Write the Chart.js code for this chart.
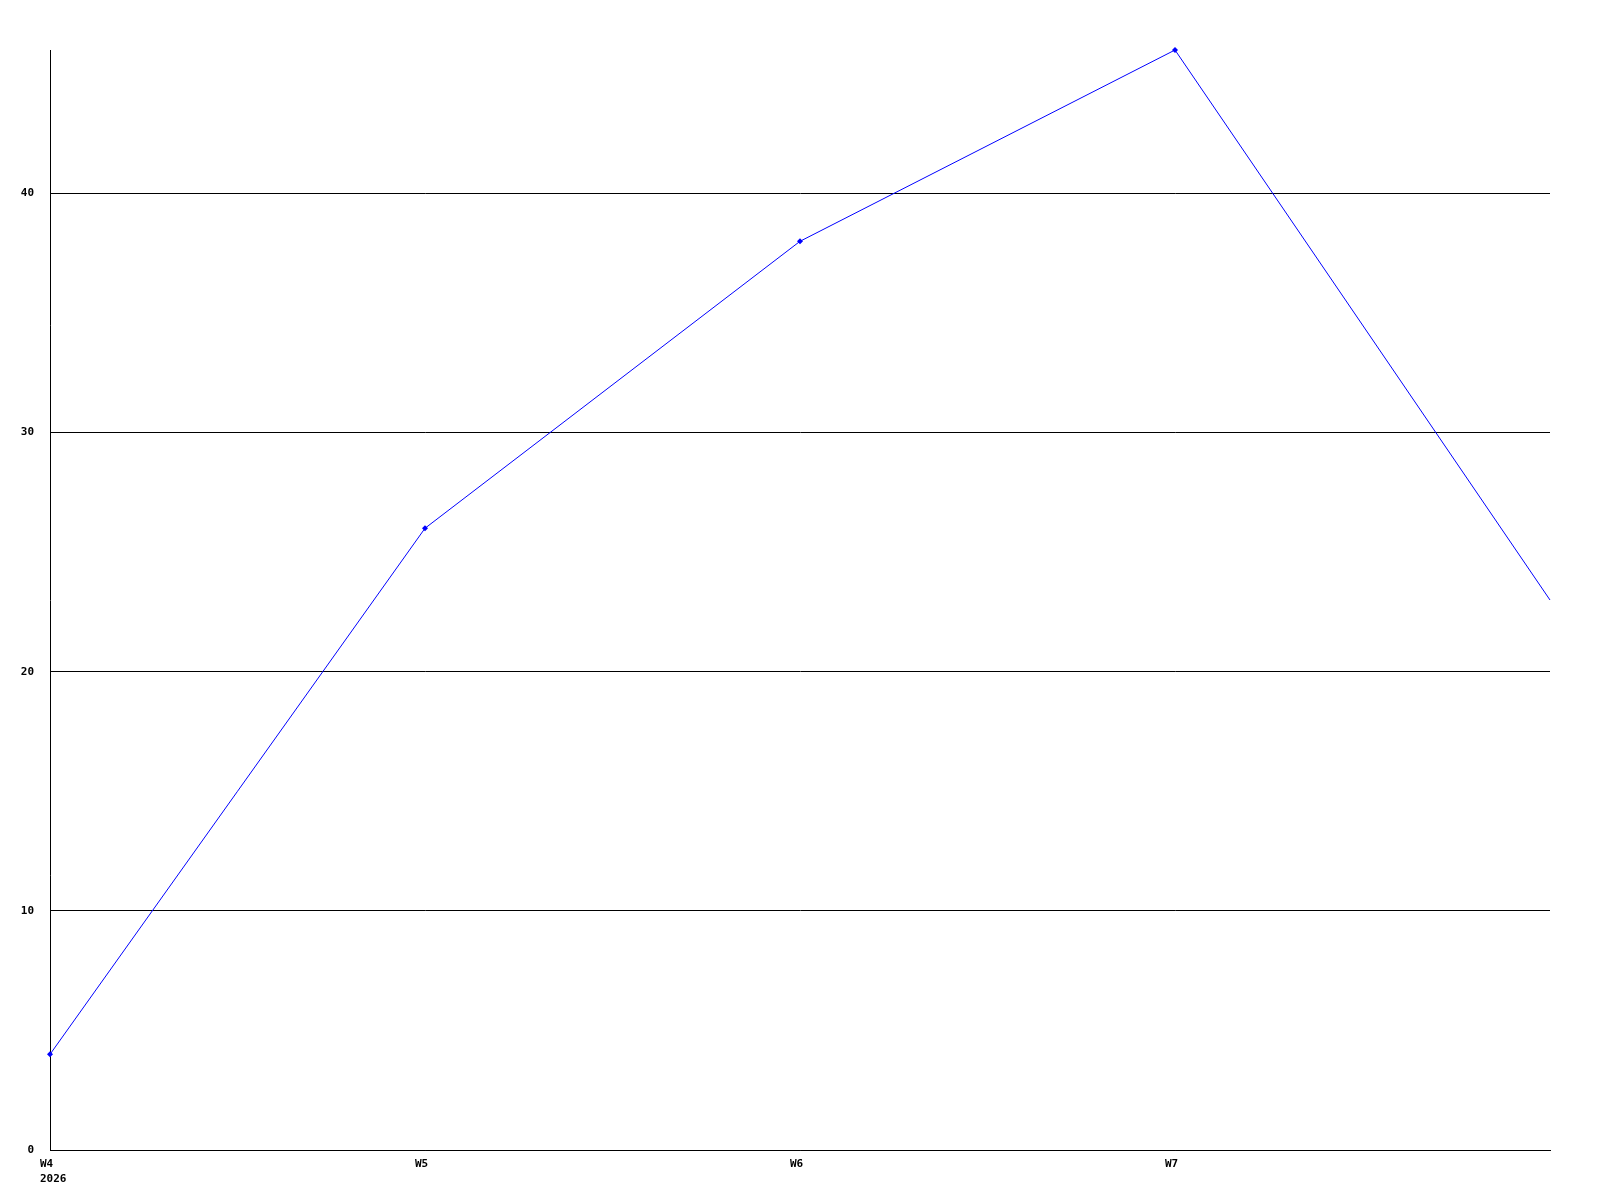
<!DOCTYPE html>
<html>
<head>
<meta charset="utf-8">
<script src="https://cdn.jsdelivr.net/npm/chart.js@4/dist/chart.umd.min.js"></script>
<style>
  html, body { margin: 0; padding: 0; background: #fff; }
  canvas { display: block; }
</style>
</head>
<body>
<canvas id="myChart" width="1600" height="1200"></canvas>
<script>
"use strict";
// weeks on the x axis (last one has no label)
const weekLabels = [["W4", "2026"], "W5", "W6", "W7", ""];
const weekValues = [4, 26, 38, 46, 23];
const yTicks = [0, 10, 20, 30, 40];
const yMax = 46;

const ctx = document.getElementById("myChart").getContext("2d");
const tickFont = { family: "DejaVu Sans Mono", size: 11, weight: "bold", lineHeight: 1.4 };

new Chart(ctx, {
  type: "line",
  data: {
    labels: weekLabels,
    datasets: [{
      data: weekValues,
      borderColor: "#0000ff",
      backgroundColor: "#0000ff",
      borderWidth: 1,
      tension: 0,
      pointStyle: "rectRot",
      // the last point sits on the plot edge with no marker
      pointRadius: [3, 3, 3, 3, 0],
      pointBorderWidth: 0,
      clip: false,
      fill: false
    }]
  },
  options: {
    responsive: false,
    animation: false,
    layout: { padding: { top: 50, right: 50, left: 0, bottom: 0 } },
    plugins: { legend: { display: false }, tooltip: { enabled: false } },
    scales: {
      x: {
        grid: { display: false, drawTicks: false },
        border: { display: true, color: "#000", width: 1 },
        ticks: {
          color: "#000",
          font: tickFont,
          autoSkip: false,
          maxRotation: 0,
          align: "start",
          labelOffset: -10,
          padding: 6
        },
        afterFit: (scale) => { scale.height = 50; }
      },
      y: {
        min: 0,
        max: yMax,
        afterBuildTicks: (scale) => {
          scale.ticks = yTicks.map(v => ({ value: v }));
        },
        grid: { color: "#000", lineWidth: 1, drawTicks: false },
        border: { display: true, color: "#000", width: 1 },
        ticks: { color: "#000", font: { family: "DejaVu Sans Mono", size: 11, weight: "bold" }, padding: 16 },
        afterFit: (scale) => { scale.width = 50; }
      }
    }
  }
});
</script>
</body>
</html>
